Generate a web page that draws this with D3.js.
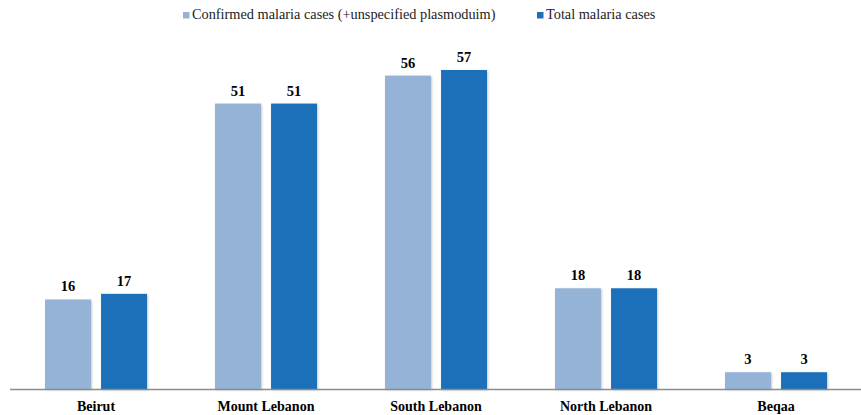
<!DOCTYPE html>
<html>
<head>
<meta charset="utf-8">
<script src="https://cdn.jsdelivr.net/npm/d3@7"></script>
<style>
  body { margin: 0; background: #fff; }
</style>
</head>
<body>
<div id="chart"></div>
<script>
var regions = ["Beirut", "Mount Lebanon", "South Lebanon", "North Lebanon", "Beqaa"];
var seriesNames = ["Confirmed malaria cases (+unspecified plasmoduim)", "Total malaria cases"];
var confirmedCases = [16, 51, 56, 18, 3];
var totalCases = [17, 51, 57, 18, 3];
var colors = ["#95b3d7", "#1f70b9"];
var serif = "'Liberation Serif', 'Times New Roman', Times, serif";

var w = 861, h = 415;
var svg = d3.select("#chart").append("svg")
    .attr("width", w).attr("height", h)
    .style("font-family", serif);

// soft shadow under bars
var defs = svg.append("defs");
var f = defs.append("filter").attr("id", "shadow")
    .attr("x", "-20%").attr("y", "-20%").attr("width", "140%").attr("height", "140%");
f.append("feDropShadow").attr("dx", 1).attr("dy", 1).attr("stdDeviation", 1.2)
    .attr("flood-color", "#000").attr("flood-opacity", 0.22);

var x0 = d3.scaleBand().domain(regions).range([11, 861]);
var x1 = d3.scaleBand().domain([0, 1]).range([34, 136]).paddingInner(0.18);
var y = d3.scaleLinear().domain([0, 57]).range([389, 70]);

var rows = regions.map(function(r, i) {
  return { region: r, values: [confirmedCases[i], totalCases[i]] };
});

var groups = svg.selectAll("g.grp").data(rows).enter().append("g")
    .attr("class", "grp")
    .attr("transform", function(d) { return "translate(" + x0(d.region) + ",0)"; });

groups.selectAll("rect").data(function(d) { return d.values; }).enter().append("rect")
    .attr("x", function(d, i) { return x1(i); })
    .attr("y", function(d) { return y(d); })
    .attr("width", x1.bandwidth())
    .attr("height", function(d) { return y(0) - y(d); })
    .attr("fill", function(d, i) { return colors[i]; })
    .attr("filter", "url(#shadow)");

groups.selectAll("text.val").data(function(d) { return d.values; }).enter().append("text")
    .attr("class", "val")
    .attr("x", function(d, i) { return x1(i) + x1.bandwidth() / 2; })
    .attr("y", function(d) { return y(d) - 8; })
    .attr("text-anchor", "middle")
    .style("font-family", serif)
    .style("font-size", "14.5px")
    .style("font-weight", "bold")
    .text(function(d) { return d; });

// axis line + category labels
var axis = svg.append("g").attr("transform", "translate(0,389)")
    .call(d3.axisBottom(x0).tickSize(0).tickPadding(12));
axis.select(".domain").attr("stroke", "#8c8c8c").attr("stroke-width", 1.5)
    .attr("d", "M10,0.5H861");
axis.selectAll("text")
    .style("font-family", serif)
    .style("font-size", "14px").style("font-weight", "bold").attr("fill", "#000");

// legend
var legendX = [183, 537];
var leg = svg.selectAll("g.leg").data(seriesNames).enter().append("g")
    .attr("class", "leg")
    .attr("transform", function(d, i) { return "translate(" + legendX[i] + ",12)"; });
leg.append("rect").attr("width", 6.5).attr("height", 6.5).attr("y", 0)
    .attr("fill", function(d, i) { return colors[i]; });
leg.append("text").attr("x", 9).attr("y", 7)
    .style("font-family", serif)
    .style("font-size", "14.3px").attr("fill", "#222")
    .text(function(d) { return d; });
</script>
</body>
</html>
